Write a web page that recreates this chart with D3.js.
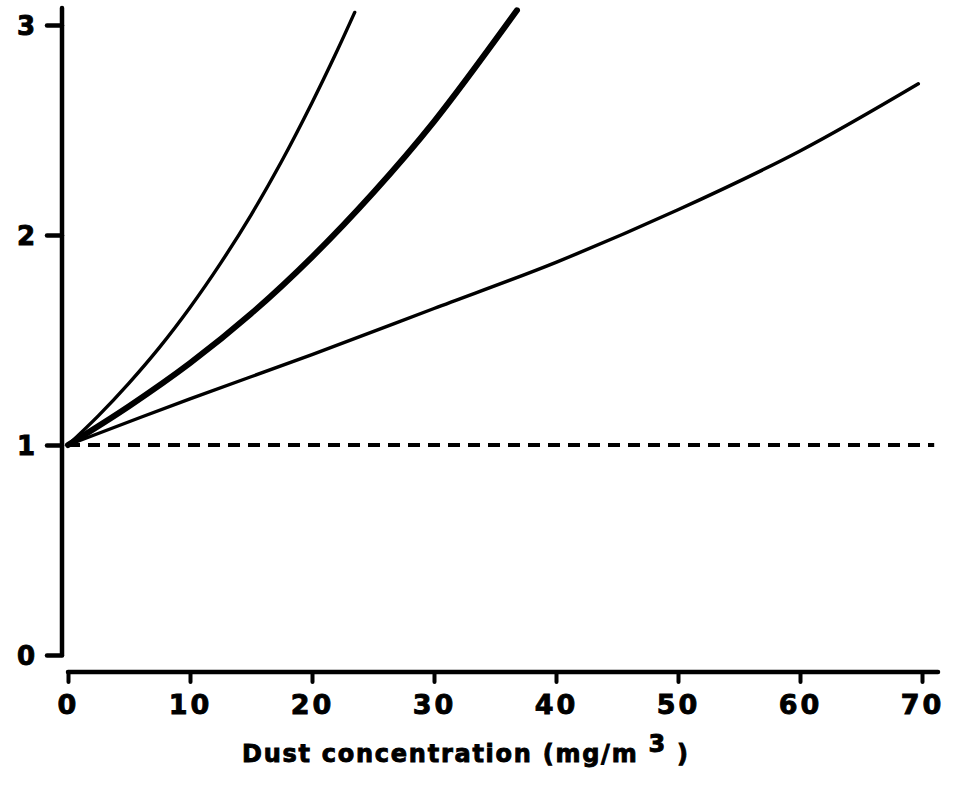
<!DOCTYPE html>
<html>
<head>
<meta charset="utf-8">
<script src="https://cdn.jsdelivr.net/npm/d3@7"></script>
<style>
  html, body { margin: 0; padding: 0; background: #fff; }
  svg { display: block; }
  text { font-family: "DejaVu Sans", sans-serif; font-weight: bold; fill: #000; stroke: #000; stroke-width: 0.9px; }
</style>
</head>
<body>
<svg id="chart" width="953" height="791"></svg>
<script>
// Relative response vs. dust concentration, three dose-response curves
const xTicks = [0, 10, 20, 30, 40, 50, 60, 70];
const yTicks = [0, 1, 2, 3];

// steep thin curve
const steepX = [0, 2.5, 5, 7.5, 10, 12.5, 15, 17.5, 20, 22, 23.5];
const steepY = [1, 1.14, 1.295, 1.465, 1.655, 1.865, 2.095, 2.35, 2.63, 2.87, 3.06];

// central thick curve
const centralX = [0, 5, 10, 15, 20, 25, 30, 36.8];
const centralY = [1, 1.185, 1.39, 1.625, 1.895, 2.2, 2.54, 3.07];

// shallow thin curve
const shallowX = [0, 10, 20, 30, 40, 50, 60, 69.7];
const shallowY = [1, 1.22, 1.43, 1.65, 1.87, 2.12, 2.40, 2.72];

// reference level (no effect)
const refX = [0, 71];
const refY = [1, 1];

const svg = d3.select("#chart");

const x = d3.scaleLinear().domain([0, 70]).range([68, 922]);
const y = d3.scaleLinear().domain([0, 3]).range([655, 25]);

const yAxisX = 62;
const xAxisY = 672;

// y axis
const gy = svg.append("g").attr("transform", `translate(${yAxisX},0)`);
gy.append("line")
  .attr("x1", 0).attr("x2", 0)
  .attr("y1", 8).attr("y2", y(0))
  .attr("stroke", "#000").attr("stroke-width", 4.5).attr("stroke-linecap", "round");
gy.call(d3.axisLeft(y).tickValues(yTicks).tickSize(15).tickSizeOuter(0).tickPadding(12).tickFormat(d3.format("d")));
gy.select(".domain").remove();
gy.selectAll(".tick line").attr("stroke", "#000").attr("stroke-width", 4.5).attr("stroke-linecap", "round");
gy.selectAll(".tick text").attr("font-size", 26).attr("font-family", "DejaVu Sans").attr("font-weight", "bold")
  .attr("x", -36).attr("text-anchor", "middle").attr("dy", "0.36em");

// x axis
const gx = svg.append("g").attr("transform", `translate(0,${xAxisY})`);
gx.append("line")
  .attr("x1", x(0)).attr("x2", 938)
  .attr("y1", 0).attr("y2", 0)
  .attr("stroke", "#000").attr("stroke-width", 4.5).attr("stroke-linecap", "round");
gx.call(d3.axisBottom(x).tickValues(xTicks).tickSize(10).tickSizeOuter(0).tickPadding(13).tickFormat(d3.format("d")));
gx.select(".domain").remove();
gx.selectAll(".tick line").attr("stroke", "#000").attr("stroke-width", 4).attr("stroke-linecap", "round");
gx.selectAll(".tick text").attr("font-size", 27).attr("font-family", "DejaVu Sans").attr("font-weight", "bold")
  .attr("letter-spacing", 3).attr("dy", "0.71em");

// axis title
const title = svg.append("text")
  .attr("x", 242).attr("y", 762)
  .attr("font-size", 24);
title.append("tspan").text("Dust concentration (mg/m");
title.append("tspan").attr("dy", -10).attr("font-size", 24).text(" 3");
title.append("tspan").attr("dy", 10).text(" )");
// spread letters to the drawn width
const natural = title.node().getComputedTextLength();
const nChars = "Dust concentration (mg/m 3 )".length;
title.attr("letter-spacing", Math.max(0, (446 - natural) / (nChars - 1)));

// curves
const line = d3.line()
  .x(d => x(d[0]))
  .y(d => y(d[1]))
  .curve(d3.curveCatmullRom.alpha(0.5));

const zip = (a, b) => a.map((v, i) => [v, b[i]]);

svg.append("path")
  .datum(zip(refX, refY))
  .attr("d", line)
  .attr("fill", "none").attr("stroke", "#000")
  .attr("stroke-width", 3.8).attr("stroke-dasharray", "12,8");

svg.append("path")
  .datum(zip(shallowX, shallowY))
  .attr("d", line)
  .attr("fill", "none").attr("stroke", "#000")
  .attr("stroke-width", 3.4).attr("stroke-linecap", "round");

svg.append("path")
  .datum(zip(centralX, centralY))
  .attr("d", line)
  .attr("fill", "none").attr("stroke", "#000")
  .attr("stroke-width", 6).attr("stroke-linecap", "round");

svg.append("path")
  .datum(zip(steepX, steepY))
  .attr("d", line)
  .attr("fill", "none").attr("stroke", "#000")
  .attr("stroke-width", 3.4).attr("stroke-linecap", "round");
</script>
</body>
</html>
